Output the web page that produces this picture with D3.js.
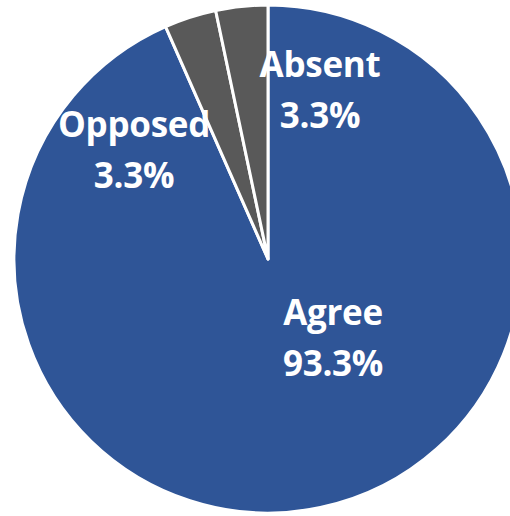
<!DOCTYPE html>
<html>
<head>
<meta charset="utf-8">
<script src="https://cdn.jsdelivr.net/npm/d3@7"></script>
<style>
  body{margin:0;background:#fff;}
  svg{display:block;}
</style>
</head>
<body>
<svg id="chart"></svg>
<script>
const categories=['Agree','Opposed','Absent'];
const values=[93.3,3.3,3.3];
const colors=['#2F5597','#595959','#595959'];

const width=510, height=516;
const cx=268, cy=259, radius=254;

// where excel dropped each label (first baseline), relative to pie centre
const labelOffsets=[[65,66],[-134,-122],[52,-182]];

const svg=d3.select('#chart').attr('width',width).attr('height',height);
const g=svg.append('g').attr('transform','translate('+cx+','+cy+')');

const pie=d3.pie().sort(null).value(d=>d);
const arc=d3.arc().innerRadius(0).outerRadius(radius);

const arcs=pie(values);

g.selectAll('path')
  .data(arcs)
  .enter()
  .append('path')
  .attr('d',arc)
  .attr('fill',(d,i)=>colors[i])
  .attr('stroke','#fff')
  .attr('stroke-width',3)
  .attr('stroke-linejoin','round');

const fmt=d3.format('.1f');
const labels=g.selectAll('text.lbl')
  .data(arcs)
  .enter()
  .append('text')
  .attr('class','lbl')
  .attr('text-anchor','middle')
  .attr('fill','#fff')
  .style('font-family','"Open Sans", "Noto Sans", sans-serif')
  .style('font-weight','bold')
  .style('font-size','35px')
  .style('letter-spacing','-0.3px')
  .attr('transform',(d,i)=>'translate('+labelOffsets[i]+')');

labels.append('tspan')
  .attr('x',0).attr('dy',0)
  .text((d,i)=>categories[i]);
labels.append('tspan')
  .attr('x',0).attr('dy',51)
  .text(d=>fmt(d.data)+'%');
</script>
</body>
</html>
